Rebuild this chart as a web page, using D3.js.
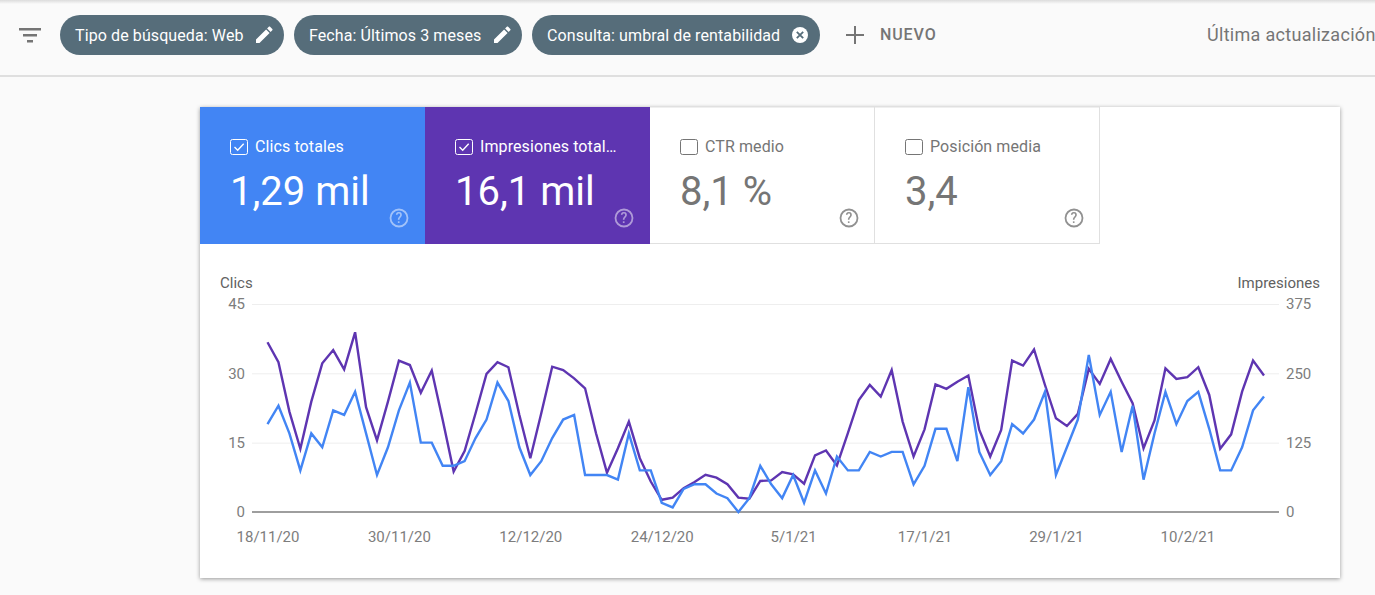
<!DOCTYPE html>
<html>
<head>
<meta charset="utf-8">
<script src="https://cdn.jsdelivr.net/npm/d3@7/dist/d3.min.js"></script>
<style>
    html, body { margin: 0; padding: 0; background: #fafafa; overflow: hidden; }
    svg { display: block; font-family: Roboto, sans-serif; }
</style>
</head>
<body>
<svg id="chart" width="1375" height="595"></svg>
<script>
// daily values, 18/11/20 onwards
const clicks = [19, 23, 17, 9, 17, 14, 22, 21, 26, 17, 8, 14, 22, 28, 15, 15, 10, 10, 11, 16, 20, 28, 24, 14, 8, 11, 16, 20, 21, 8,
    8, 8, 7, 17, 9, 9, 2, 1, 5, 6, 6, 4, 3, 0, 3, 10, 6, 3, 8, 2, 9, 4, 12, 9, 9, 13, 12, 13, 13, 6,
    10, 18, 18, 11, 27, 13, 8, 11, 19, 17, 20, 26, 8, 14, 20, 34, 21, 26, 13, 23, 7, 17, 26, 19, 24, 26, 18, 9, 9, 14, 22, 25];
const impressions = [306, 270, 181, 114, 199, 268, 292, 257, 324, 189, 129, 199, 273, 265, 215, 255, 166, 73, 110, 178, 249, 270, 261, 175, 97, 178, 262, 256, 241, 223,
    142, 71, 115, 163, 97, 55, 22, 26, 43, 54, 67, 62, 50, 26, 24, 56, 57, 72, 68, 51, 102, 111, 84, 142, 202, 229, 208, 256, 163, 100,
    149, 230, 222, 235, 246, 148, 100, 148, 273, 264, 293, 229, 169, 155, 177, 258, 231, 276, 235, 196, 115, 165, 259, 240, 243, 261, 211, 114, 140, 217, 273, 246];
const clickTicks = [0, 15, 30, 45];
const impressionTicks = [0, 125, 250, 375];
const dateTicks = ["18/11/20", "30/11/20", "12/12/20", "24/12/20", "5/1/21", "17/1/21", "29/1/21", "10/2/21"];

const tileLabels = ["Clics totales", "Impresiones total…", "CTR medio", "Posición media"];
const tileValues = ["1,29 mil", "16,1 mil", "8,1 %", "3,4"];
const tileColors = ["#4285f4", "#5e35b1", "#fff", "#fff"];
const pillLabels = ["Tipo de búsqueda: Web", "Fecha: Últimos 3 meses", "Consulta: umbral de rentabilidad"];

const parseDate = d3.utcParse("%d/%m/%y");
const firstDay = parseDate(dateTicks[0]);
const days = clicks.map((_, i) => d3.utcDay.offset(firstDay, i));

const svg = d3.select("#chart");

// drop shadows
const defs = svg.append("defs");
const cardShadow = defs.append("filter").attr("id", "cardShadow")
    .attr("x", "-3%").attr("y", "-3%").attr("width", "106%").attr("height", "106%");
cardShadow.append("feDropShadow").attr("dx", 0).attr("dy", 1).attr("stdDeviation", 2)
    .attr("flood-color", "#000").attr("flood-opacity", 0.4);
const topShade = defs.append("linearGradient").attr("id", "topShade")
    .attr("x1", 0).attr("y1", 0).attr("x2", 0).attr("y2", 1);
topShade.append("stop").attr("offset", 0).attr("stop-color", "#dcdcdc");
topShade.append("stop").attr("offset", 1).attr("stop-color", "#fafafa");

// top bar
svg.append("rect").attr("width", 1375).attr("height", 4).attr("fill", "url(#topShade)");
svg.append("rect").attr("y", 75).attr("width", 1375).attr("height", 2).attr("fill", "#dfdfdf");

svg.append("path")
    .attr("d", "M19 28h22v2.4H19z M23 34h14v2.4H23z M27 40h6v2.4h-6z")
    .attr("fill", "#757575");

const pencil = "M0 12.5V16h3.5L13.6 5.9 10.1 2.4z M16.3 3.2c.4-.4.4-1 0-1.3L14.1-.3c-.4-.4-1-.4-1.3 0l-1.7 1.7 3.5 3.5z";
const pillX = [60, 294, 532];
const pillW = [224, 228, 288];
const pills = svg.append("g").selectAll("g").data(pillLabels).join("g")
    .attr("transform", (d, i) => `translate(${pillX[i]},15)`);
pills.append("rect")
    .attr("width", (d, i) => pillW[i]).attr("height", 40).attr("rx", 20)
    .attr("fill", "#566d7a");
pills.append("text")
    .attr("x", 15).attr("y", 25.5)
    .attr("font-size", 16).attr("letter-spacing", 0.1).attr("fill", "#fff")
    .text(d => d);
pills.filter((d, i) => i < 2).append("path")
    .attr("d", pencil).attr("fill", "#fff")
    .attr("transform", (d, i) => `translate(${pillW[i] - 28},12)`);
const closeIcon = pills.filter((d, i) => i === 2);
closeIcon.append("circle").attr("cx", 268).attr("cy", 20).attr("r", 8).attr("fill", "#fff");
closeIcon.append("path")
    .attr("d", "M264.8 16.8l6.4 6.4 M271.2 16.8l-6.4 6.4")
    .attr("stroke", "#566d7a").attr("stroke-width", 1.8);

svg.append("path")
    .attr("d", "M854 26h2v8h8v2h-8v8h-2v-8h-8v-2h8z")
    .attr("fill", "#757575");
svg.append("text")
    .attr("x", 880).attr("y", 39.5)
    .attr("font-size", 16).attr("font-weight", 500).attr("letter-spacing", 0.9).attr("fill", "#757575")
    .text("NUEVO");
svg.append("text")
    .attr("x", 1207).attr("y", 41)
    .attr("font-size", 18).attr("letter-spacing", 0.3).attr("fill", "#757575")
    .text("Última actualización");

// card
svg.append("rect")
    .attr("x", 200).attr("y", 107).attr("width", 1140).attr("height", 471)
    .attr("fill", "#fff").attr("filter", "url(#cardShadow)");

// metric tiles
const tileX = d3.scaleBand().domain(d3.range(4)).range([200, 1100]);
const tiles = svg.append("g").selectAll("g").data(tileLabels).join("g")
    .attr("transform", (d, i) => `translate(${tileX(i)},107)`);
tiles.append("rect")
    .attr("x", (d, i) => i > 1 ? -0.5 : 0).attr("width", tileX.bandwidth())
    .attr("height", (d, i) => i > 1 ? 136.5 : 137)
    .attr("fill", (d, i) => tileColors[i])
    .attr("stroke", (d, i) => i > 1 ? "#e0e0e0" : "none");
// purple tile sits over the left border of the CTR tile
tiles.filter((d, i) => i === 1).raise();
const tileInk = i => i < 2 ? "#fff" : "#757575";
tiles.append("rect")
    .attr("x", 30.5).attr("y", 32.5).attr("width", 17).attr("height", 15).attr("rx", 2)
    .attr("fill", "none").attr("stroke", (d, i) => tileInk(i)).attr("stroke-width", 1);
tiles.filter((d, i) => i < 2).append("path")
    .attr("d", "M34.5 40l3.2 3.2 6-6.4")
    .attr("fill", "none").attr("stroke", "#fff").attr("stroke-width", 1.4);
tiles.append("text")
    .attr("x", 55).attr("y", 44.5)
    .attr("font-size", 16).attr("letter-spacing", 0.1)
    .attr("fill", (d, i) => tileInk(i))
    .text(d => d);
tiles.append("text")
    .attr("x", 30).attr("y", 98)
    .attr("font-size", 40).attr("font-weight", 400)
    .attr("fill", (d, i) => tileInk(i))
    .text((d, i) => tileValues[i]);
tiles.append("circle")
    .attr("cx", 199).attr("cy", 111).attr("r", 8.5)
    .attr("fill", "none").attr("stroke", (d, i) => tileInk(i)).attr("stroke-width", 1.8)
    .attr("opacity", (d, i) => i < 2 ? 0.5 : 0.8);
tiles.append("text")
    .attr("x", 199).attr("y", 116)
    .attr("text-anchor", "middle").attr("font-size", 14).attr("font-weight", 500)
    .attr("fill", (d, i) => tileInk(i))
    .attr("opacity", (d, i) => i < 2 ? 0.5 : 0.8)
    .text("?");

// plot
const x = d3.scaleUtc().domain([firstDay, days[days.length - 1]]).range([267.5, 1264]);
const yClicks = d3.scaleLinear().domain([0, 45]).range([512, 304]);
const yImpressions = d3.scaleLinear().domain([0, 375]).range([512, 304]);

svg.append("g").selectAll("line").data(clickTicks.slice(1)).join("line")
    .attr("x1", 252).attr("x2", 1279)
    .attr("y1", d => yClicks(d) + 0.5).attr("y2", d => yClicks(d) + 0.5)
    .attr("stroke", "#eeeeee");
svg.append("line")
    .attr("x1", 252).attr("x2", 1279)
    .attr("y1", yClicks(0)).attr("y2", yClicks(0))
    .attr("stroke", "#9e9e9e").attr("stroke-width", 2);

const leftAxis = svg.append("g")
    .attr("transform", "translate(245,0)")
    .call(d3.axisLeft(yClicks).tickValues(clickTicks).tickSize(0).tickPadding(0));
const rightAxis = svg.append("g")
    .attr("transform", "translate(1286,0)")
    .call(d3.axisRight(yImpressions).tickValues(impressionTicks).tickSize(0).tickPadding(0));
const bottomAxis = svg.append("g")
    .attr("transform", "translate(0,531.5)")
    .call(d3.axisBottom(x).tickValues(dateTicks.map(parseDate)).tickSize(0).tickPadding(0)
        .tickFormat((d, i) => dateTicks[i]));
[leftAxis, rightAxis, bottomAxis].forEach(a => {
    a.select(".domain").remove();
    a.selectAll("text")
        .attr("fill", "#7d7d7d")
        .attr("font-family", "Roboto, sans-serif")
        .attr("font-size", 15);
});

svg.append("text").attr("x", 220).attr("y", 288)
    .attr("font-size", 15).attr("fill", "#616161").text("Clics");
svg.append("text").attr("x", 1320).attr("y", 288).attr("text-anchor", "end")
    .attr("font-size", 15).attr("fill", "#616161").text("Impresiones");

const clickLine = d3.line().x((d, i) => x(days[i])).y(d => yClicks(d));
const impressionLine = d3.line().x((d, i) => x(days[i])).y(d => yImpressions(d));
svg.append("path").datum(impressions)
    .attr("d", impressionLine)
    .attr("fill", "none").attr("stroke", "#5e35b1").attr("stroke-width", 2.4);
svg.append("path").datum(clicks)
    .attr("d", clickLine)
    .attr("fill", "none").attr("stroke", "#4285f4").attr("stroke-width", 2.4);
</script>
</body>
</html>
